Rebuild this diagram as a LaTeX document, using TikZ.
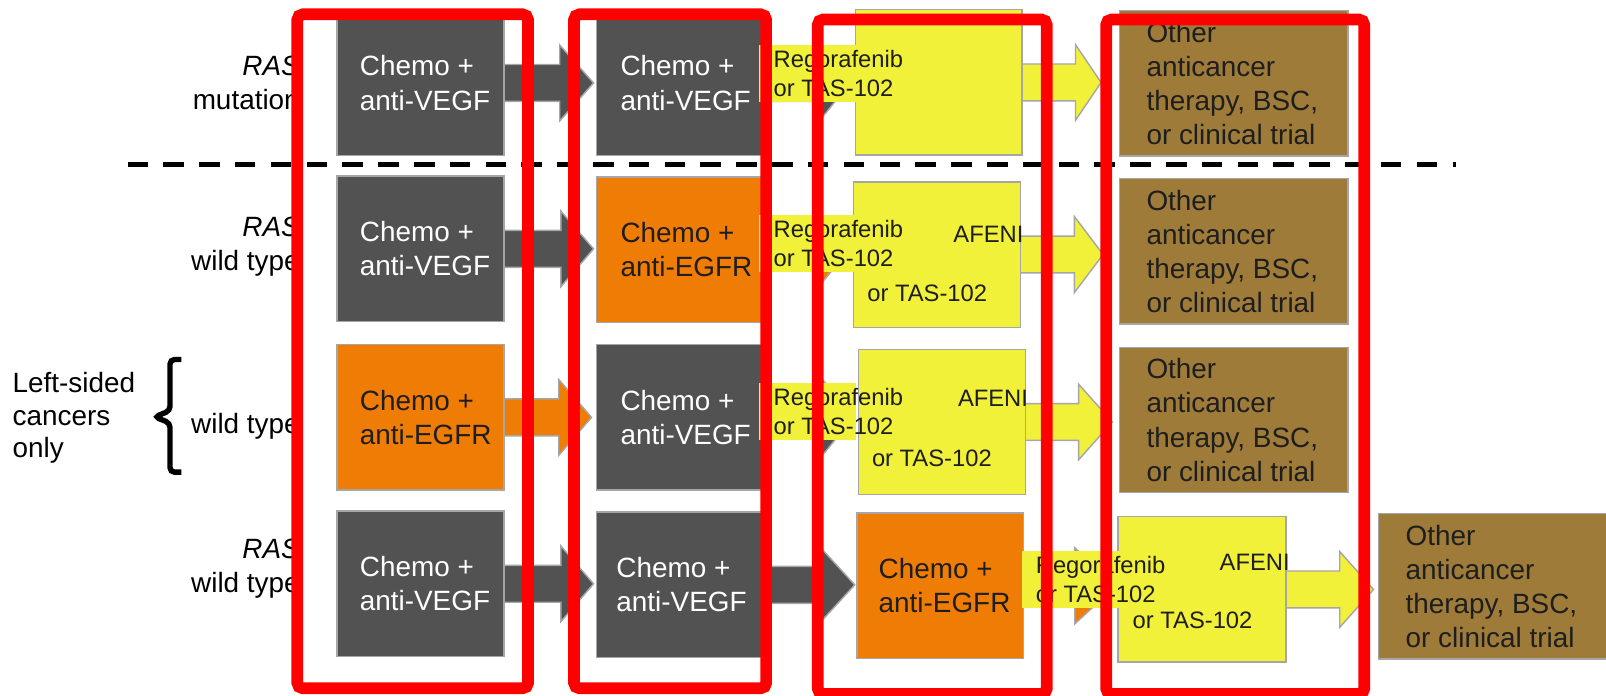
\documentclass[tikz,border=0pt]{standalone}
\usepackage{fontspec}
\setmainfont{Liberation Sans}
\usetikzlibrary{calc}
\pgfdeclarelayer{sfondo}
\pgfsetlayers{sfondo,main}

\begin{document}
\begin{tikzpicture}[x=0.02cm,y=-0.02cm,
  scatola/.style={draw=bordo, line width=0.8pt, inner sep=0pt, outer sep=0pt,
    minimum width=3.26cm, minimum height=2.84cm},
  testo/.style={inner sep=0pt, anchor=west, align=left, text=scuro,
    font=\fontsize{15.5}{19}\selectfont},
  piccolo/.style={inner sep=0pt, align=left, text=scuro,
    font=\fontsize{13.2}{16.2}\selectfont},
  etichetta/.style={fill=giallo, inner sep=0pt, outer sep=0pt,
    minimum width=1.9cm, minimum height=1.12cm},
  cornice/.style={draw=rosso, line width=6.5pt, rounded corners=3pt}]

% Colori
\definecolor{grigio}{HTML}{525252}
\definecolor{arancio}{HTML}{EF7C05}
\definecolor{giallo}{HTML}{F1F13A}
\definecolor{marrone}{HTML}{9E7B38}
\definecolor{bordo}{HTML}{A6A6A6}
\definecolor{rosso}{HTML}{FF0000}
\definecolor{scuro}{HTML}{1E1E1E}

% Freccia piena: colore, da, a, distanza, lunghezza punta
\def\freccia#1#2#3#4#5{%
  \path[fill=#1, draw=bordo, line width=0.8pt]
    ($(#2.east)+(-2,-18)$) -- ($(#3.west|-#2.east)+(-#4-#5,-18)$)
    -- ($(#3.west|-#2.east)+(-#4-#5,-37)$) -- ($(#3.west|-#2.east)+(-#4,0)$)
    -- ($(#3.west|-#2.east)+(-#4-#5,37)$) -- ($(#3.west|-#2.east)+(-#4-#5,18)$)
    -- ($(#2.east)+(-2,18)$) -- cycle;}

\useasboundingbox (0,0) rectangle (1568,679);

% Etichette a sinistra
\node[testo, anchor=east, align=right, text=black] (m1) at (293,81) {\textit{RAS}\\mutation};
\node[testo, anchor=east, align=right, text=black] (w2) at (293,241) {\textit{RAS}\\wild type};
\node[testo, anchor=east, align=right, text=black] (w3) at (293,416) {wild type};
\node[testo, anchor=east, align=right, text=black] (w4) at (293,555) {\textit{RAS}\\wild type};
\node[testo, text=black, font=\fontsize{15.5}{18.2}\selectfont] (ls) at (12,408) {Left-sided\\cancers\\only};
% Parentesi graffa
\draw[line width=3pt, rounded corners=2.5pt] (177,351) -- (166,351) -- (166,401)
  -- (151,407) -- (166,413) -- (166,461) -- (177,461);

% Linea tratteggiata
\draw[line width=2.85pt, dash pattern=on 11.4pt off 8.5pt] (124.5,161) -- (1421.5,161);

% Prima linea
\node[scatola, fill=grigio] (a1) at (410.5,81) {};
\node[scatola, fill=grigio] (a2) at (410.5,243) {};
\node[scatola, fill=arancio] (a3) at (410.5,407.5) {};
\node[scatola, fill=grigio] (a4) at (410.5,570) {};
\node[testo, text=white] (a1t) at ($(a1.west)+(22,0)$) {Chemo +\\anti-VEGF};
\node[testo, text=white] (a2t) at ($(a2.west)+(22,0)$) {Chemo +\\anti-VEGF};
\node[testo] (a3t) at ($(a3.west)+(22,0)$) {Chemo +\\anti-EGFR};
\node[testo, text=white] (a4t) at ($(a4.west)+(22,0)$) {Chemo +\\anti-VEGF};

% Seconda linea
\node[scatola, fill=grigio] (b1) at (664,81) {};
\node[scatola, fill=arancio] (b2) at (664,244) {};
\node[scatola, fill=grigio] (b3) at (664,407.5) {};
\node[scatola, fill=grigio] (b4) at (664,571) {};
\node[testo, text=white] (b1t) at ($(b1.west)+(23,0)$) {Chemo +\\anti-VEGF};
\node[testo] (b2t) at ($(b2.west)+(23,0)$) {Chemo +\\anti-EGFR};
\node[testo, text=white] (b3t) at ($(b3.west)+(23,0)$) {Chemo +\\anti-VEGF};
\node[testo, text=white] (b4t) at ($(b4.west)+(19,0)$) {Chemo +\\anti-VEGF};

% Terza linea
\node[scatola, fill=giallo] (c1) at (916.5,80.5) {};
\node[scatola, fill=giallo] (c2) at (915,248.5) {};
\node[scatola, fill=giallo] (c3) at (919.5,412) {};
\node[scatola, fill=arancio] (c4) at (918,572) {};
\node[testo] (c4t) at ($(c4.west)+(21,0)$) {Chemo +\\anti-EGFR};

% Quarta e quinta linea
\node[scatola, fill=marrone, minimum width=4.46cm] (d1) at (1204.5,81.5) {};
\node[scatola, fill=marrone, minimum width=4.46cm] (d2) at (1204.5,245.5) {};
\node[scatola, fill=marrone, minimum width=4.46cm] (d3) at (1204.5,410) {};
\node[scatola, fill=giallo, minimum width=3.28cm] (d4) at (1173.5,575.5) {};
\node[scatola, fill=marrone, minimum width=4.48cm] (e4) at (1458,572.5) {};
\node[testo] (d1t) at ($(d1.west)+(26,0)$) {Other\\anticancer\\therapy, BSC,\\or clinical trial};
\node[testo] (d2t) at ($(d2.west)+(26,0)$) {Other\\anticancer\\therapy, BSC,\\or clinical trial};
\node[testo] (d3t) at ($(d3.west)+(26,0)$) {Other\\anticancer\\therapy, BSC,\\or clinical trial};
\node[testo] (e4t) at ($(e4.west)+(26,0)$) {Other\\anticancer\\therapy, BSC,\\or clinical trial};

% Frecce
\begin{pgfonlayer}{sfondo}
\freccia{grigio}{a1}{b1}{3}{33}
\freccia{grigio}{b1}{c1}{5}{30}
\freccia{giallo}{c1}{d1}{18}{25}
\freccia{grigio}{a2}{b2}{3}{32}
\freccia{arancio}{b2}{c2}{5}{30}
\freccia{giallo}{c2}{d2}{16}{28}
\freccia{arancio}{a3}{b3}{5}{32}
\freccia{grigio}{b3}{c3}{5}{30}
\freccia{giallo}{c3}{d3}{7}{33}
\freccia{grigio}{a4}{b4}{3}{32}
\freccia{grigio}{b4}{c4}{2}{34}
\freccia{arancio}{c4}{d4}{2}{40}
\freccia{giallo}{d4}{e4}{5}{33}
\end{pgfonlayer}

% Testi nei riquadri gialli
\node[piccolo, anchor=east] (c2a) at ($(c2.east)+(3,-19.5)$) {AFENI};
\node[piccolo, anchor=west] (c2b) at ($(c2.west)+(13,37.5)$) {or TAS-102};
\node[piccolo, anchor=east] (c3a) at ($(c3.east)+(3,-23)$) {AFENI};
\node[piccolo, anchor=west] (c3b) at ($(c3.west)+(13,35)$) {or TAS-102};
\node[piccolo, anchor=east] (d4a) at ($(d4.east)+(4,-26.5)$) {AFENI};
\node[piccolo, anchor=west] (d4b) at ($(d4.west)+(14,30.5)$) {or TAS-102};

% Etichette Regorafenib
\node[etichetta] (r1) at (788.5,72) {};
\node[etichetta] (r2) at (788.5,238) {};
\node[etichetta] (r3) at (788.5,402) {};
\node[etichetta] (r4) at (1045.5,565.5) {};
\node[piccolo, anchor=west] (r1t) at ($(r1.west)+(14,0)$) {Regorafenib\\or TAS-102};
\node[piccolo, anchor=west] (r2t) at ($(r2.west)+(14,0)$) {Regorafenib\\or TAS-102};
\node[piccolo, anchor=west] (r3t) at ($(r3.west)+(14,0)$) {Regorafenib\\or TAS-102};
\node[piccolo, anchor=west] (r4t) at ($(r4.west)+(13,0)$) {Regorafenib\\or TAS-102};

% Cornici rosse
\draw[cornice] (290.3,14) rectangle (515.5,672);
\draw[cornice] (560.5,14) rectangle (748,672);
\draw[cornice] (798.4,19) rectangle (1022,677.5);
\draw[cornice] (1080,19) rectangle (1332,677.5);

\end{tikzpicture}
\end{document}
